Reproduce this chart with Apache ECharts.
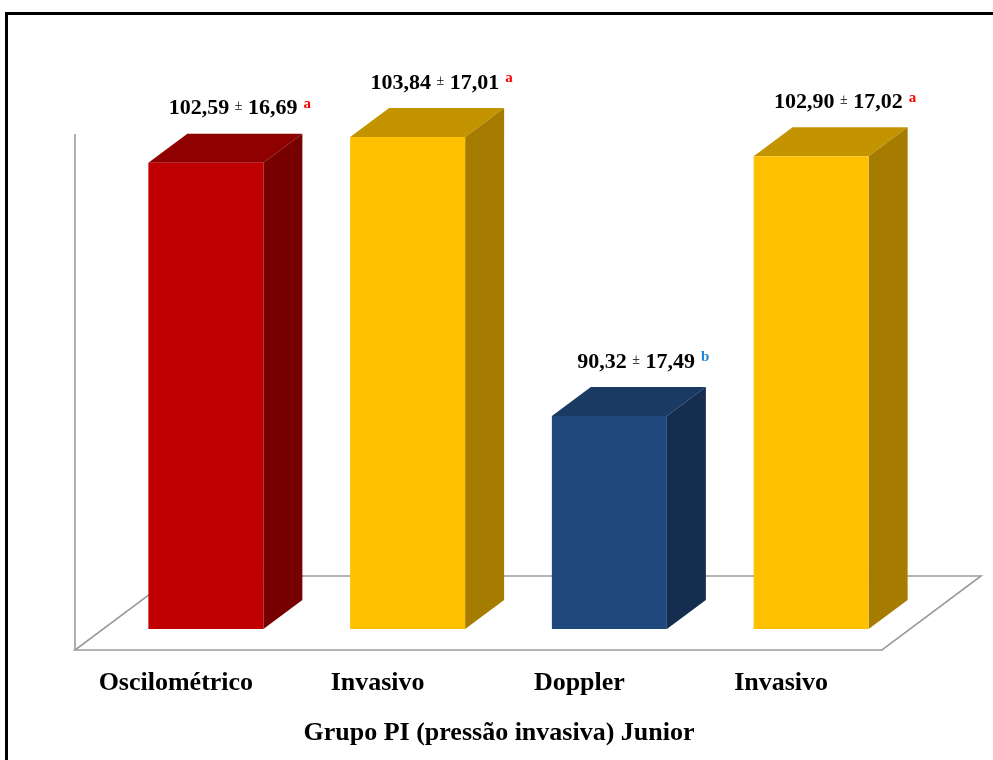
<!DOCTYPE html>
<html>
<head>
<meta charset="utf-8">
<script src="https://cdn.jsdelivr.net/npm/echarts@6/dist/echarts.min.js"></script>
<style>
  html, body { margin: 0; padding: 0; background: #fff; }
  #chart { width: 993px; height: 760px; }
</style>
</head>
<body>
<div id="chart"></div>
<script>
// Data
const categories = ['Oscilométrico', 'Invasivo', 'Doppler', 'Invasivo'];
const means = [102.59, 103.84, 90.32, 102.90];
const sds = [16.69, 17.01, 17.49, 17.02];
const letters = ['a', 'a', 'b', 'a'];
const xTitle = 'Grupo PI (pressão invasiva) Junior';

// Look
const yMin = 80;
const yMax = 105;
const depthX = 39;
const depthY = 29;
const barColors = [
  { front: '#C00000', top: '#8F0000', side: '#770000' },
  { front: '#FFC000', top: '#C49400', side: '#A57C00' },
  { front: '#1F497D', top: '#193A63', side: '#152D4F' },
  { front: '#FFC000', top: '#C49400', side: '#A57C00' }
];
const serif = '"Liberation Serif", "Times New Roman", serif';

const fmt = v => v.toFixed(2).replace('.', ',');

const chart = echarts.init(document.getElementById('chart'), null, { renderer: 'canvas' });

// floor parallelogram + left wall edge, tied to the grid rect
function renderFloor(params, api) {
  const cs = params.coordSys;
  const lineStyle = { stroke: '#9C9C9C', lineWidth: 1.6, fill: null };
  const fx = cs.x - 30, fy = cs.y + cs.height + 21;
  const bx = cs.x + 69, by = cs.y + cs.height - 53;
  const w = cs.width;
  return {
    type: 'group',
    children: [
      { type: 'polygon', shape: { points: [[fx, fy], [fx + w, fy], [bx + w, by], [bx, by]] }, style: lineStyle },
      { type: 'line', shape: { x1: fx, y1: cs.y + 21, x2: fx, y2: fy }, style: lineStyle }
    ]
  };
}

function renderBar(params, api) {
  const i = api.value(0);
  const val = api.value(1);
  const top = api.coord([i, val]);
  const base = api.coord([i, yMin]);
  const bw = api.size([1, 0])[0] * 0.57;
  const x0 = top[0] - bw / 2;
  const x1 = top[0] + bw / 2;
  const c = barColors[i];
  const letter = letters[i];
  return {
    type: 'group',
    children: [
      {
        type: 'polygon',
        shape: { points: [[x0, top[1]], [x1, top[1]], [x1 + depthX, top[1] - depthY], [x0 + depthX, top[1] - depthY]] },
        style: { fill: c.top }
      },
      {
        type: 'polygon',
        shape: { points: [[x1, top[1]], [x1 + depthX, top[1] - depthY], [x1 + depthX, base[1] - depthY], [x1, base[1]]] },
        style: { fill: c.side }
      },
      {
        type: 'rect',
        shape: { x: x0, y: top[1], width: bw, height: base[1] - top[1] },
        style: { fill: c.front }
      },
      {
        type: 'text',
        x: top[0] + 34,
        y: top[1] - depthY - 25,
        style: {
          text: `{n|${fmt(val)} }{pm|±}{n| ${fmt(sds[i])}}{${letter}|${letter}}`,
          align: 'center',
          verticalAlign: 'middle',
          rich: {
            n: { fontFamily: serif, fontWeight: 'bold', fontSize: 22, lineHeight: 24, fill: '#000' },
            pm: { fontFamily: serif, fontSize: 14, lineHeight: 14, fill: '#000', verticalAlign: 'top', padding: [3, 0, 0, 0] },
            a: { fontFamily: serif, fontWeight: 'bold', fontSize: 15, lineHeight: 15, fill: '#FF0000', verticalAlign: 'top', padding: [0, 0, 0, 6] },
            b: { fontFamily: serif, fontWeight: 'bold', fontSize: 15, lineHeight: 15, fill: '#1F86D6', verticalAlign: 'top', padding: [0, 0, 0, 6] }
          }
        }
      }
    ]
  };
}

const option = {
  backgroundColor: '#fff',
  animation: false,
  title: {
    text: xTitle,
    left: 499,
    top: 719,
    textAlign: 'center',
    padding: 0,
    textStyle: { fontFamily: serif, fontWeight: 'bold', fontSize: 26, lineHeight: 28, color: '#000' }
  },
  grid: { left: 105, top: 113, width: 807, height: 516 },
  xAxis: {
    type: 'category',
    data: categories,
    axisLine: { show: false },
    axisTick: { show: false },
    splitLine: { show: false },
    axisLabel: {
      margin: 40,
      fontFamily: serif,
      fontWeight: 'bold',
      fontSize: 26,
      lineHeight: 28,
      color: '#000',
      padding: [0, 60, 0, 0]
    }
  },
  yAxis: { type: 'value', min: yMin, max: yMax, show: false },
  graphic: [
    {
      type: 'rect',
      shape: { x: 6.5, y: 13.5, width: 1200, height: 1000 },
      style: { fill: null, stroke: '#000', lineWidth: 3 },
      z: 100
    }
  ],
  series: [
    {
      type: 'custom',
      renderItem: renderFloor,
      data: [[0, yMin]],
      silent: true,
      z: 1
    },
    {
      type: 'custom',
      renderItem: renderBar,
      data: means.map((v, i) => [i, v]),
      encode: { x: 0, y: 1 },
      z: 2
    }
  ]
};

chart.setOption(option);
</script>
</body>
</html>
